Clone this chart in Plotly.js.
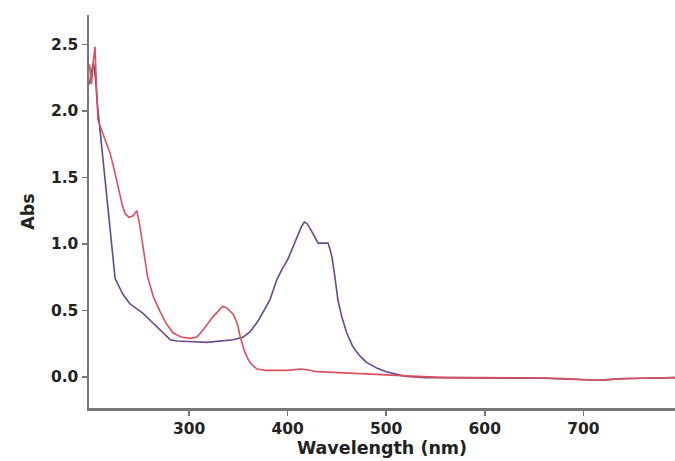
<!DOCTYPE html>
<html>
<head>
<meta charset="utf-8">
<script src="https://cdn.plot.ly/plotly-3.0.1.min.js"></script>
<style>html,body{margin:0;padding:0;background:#fff;}#chart{width:675px;height:461px;}</style>
</head>
<body>
<div id="chart"></div>
<script>
// Purple spectrum (peak near 417 nm)
const purpleX = [199, 201, 203, 205, 207, 210, 214, 217, 220, 222, 225, 229, 233, 240, 247, 253, 260, 267, 274, 281, 288, 295, 305, 318, 330, 345, 355, 362, 370, 376, 382, 389, 395, 400, 404, 408, 411, 414, 417, 420, 424, 428, 431, 436, 441, 443, 445, 448, 451, 455, 460, 466, 473, 480, 486, 491, 500, 507, 515, 521, 540, 560, 600, 640, 660, 680, 700, 715, 725, 740, 760, 780, 793];
const purpleY = [2.2, 2.3, 2.36, 2.25, 2.05, 1.83, 1.55, 1.33, 1.12, 1.0, 0.74, 0.68, 0.62, 0.55, 0.51, 0.48, 0.43, 0.38, 0.33, 0.28, 0.27, 0.27, 0.265, 0.26, 0.27, 0.28, 0.30, 0.34, 0.42, 0.5, 0.58, 0.73, 0.82, 0.88, 0.95, 1.02, 1.08, 1.13, 1.165, 1.15, 1.1, 1.04, 1.006, 1.006, 1.006, 0.96, 0.9, 0.75, 0.58, 0.45, 0.33, 0.23, 0.16, 0.11, 0.085, 0.065, 0.04, 0.025, 0.012, 0.005, -0.005, -0.005, -0.005, -0.005, -0.01, -0.015, -0.02, -0.025, -0.02, -0.012, -0.01, -0.008, -0.005];
// Red spectrum (peak near 335 nm)
const redX = [199, 201, 203, 204.6, 206, 207.6, 210, 215, 220, 224, 228, 232, 235, 239, 243, 247, 250, 253, 258, 264, 270, 277, 284, 292, 301, 308, 315, 324, 330, 334, 338, 345, 349, 352, 356, 360, 364, 369, 378, 388, 400, 413, 420, 430, 450, 464, 490, 515, 540, 560, 600, 640, 660, 680, 700, 715, 725, 740, 760, 780, 793];
const redY = [2.35, 2.2, 2.38, 2.48, 2.2, 1.93, 1.88, 1.78, 1.68, 1.56, 1.43, 1.3, 1.23, 1.2, 1.21, 1.25, 1.14, 1.0, 0.75, 0.6, 0.5, 0.4, 0.33, 0.3, 0.29, 0.3, 0.36, 0.45, 0.5, 0.53, 0.52, 0.47, 0.4, 0.3, 0.2, 0.13, 0.09, 0.06, 0.05, 0.05, 0.05, 0.06, 0.055, 0.04, 0.035, 0.03, 0.02, 0.01, 0.0, -0.005, -0.005, -0.005, -0.008, -0.012, -0.018, -0.024, -0.02, -0.013, -0.01, -0.008, -0.005];

const xTicks = [300, 400, 500, 600, 700];
const yTicks = [0.0, 0.5, 1.0, 1.5, 2.0, 2.5];
const yTickLabels = ["0.0", "0.5", "1.0", "1.5", "2.0", "2.5"];

const data = [
  {x: purpleX, y: purpleY, type: 'scatter', mode: 'lines', line: {color: '#6a4888', width: 1.6}, hoverinfo: 'skip'},
  {x: redX, y: redY, type: 'scatter', mode: 'lines', line: {color: '#d9505e', width: 1.6}, hoverinfo: 'skip'}
];

const fam = 'DejaVu Sans, Arial, sans-serif';
const tickFont = {family: fam, size: 15.5, color: '#222', weight: 'bold'};
const titleFont = {family: fam, size: 17.5, color: '#222', weight: 'bold'};

const layout = {
  width: 675, height: 461,
  margin: {l: 89, r: 0, t: 15, b: 53},
  paper_bgcolor: '#fff', plot_bgcolor: '#fff',
  showlegend: false,
  xaxis: {
    range: [198.5, 793], tickvals: xTicks, ticks: 'outside', ticklen: 5, tickwidth: 1.5, tickcolor: '#777',
    showline: true, linecolor: '#777', linewidth: 2.5, showgrid: false, zeroline: false,
    tickfont: tickFont,
    title: {text: 'Wavelength (nm)', font: titleFont, standoff: 0}
  },
  yaxis: {
    range: [-0.233, 2.72], tickvals: yTicks, ticktext: yTickLabels, ticks: 'outside', ticklen: 5, tickwidth: 1.5, tickcolor: '#777',
    showline: true, linecolor: '#777', linewidth: 2.5, showgrid: false, zeroline: false,
    tickfont: tickFont,
    title: {text: 'Abs', font: titleFont, standoff: 12}
  }
};

Plotly.newPlot('chart', data, layout, {displayModeBar: false, staticPlot: true});
</script>
</body>
</html>
